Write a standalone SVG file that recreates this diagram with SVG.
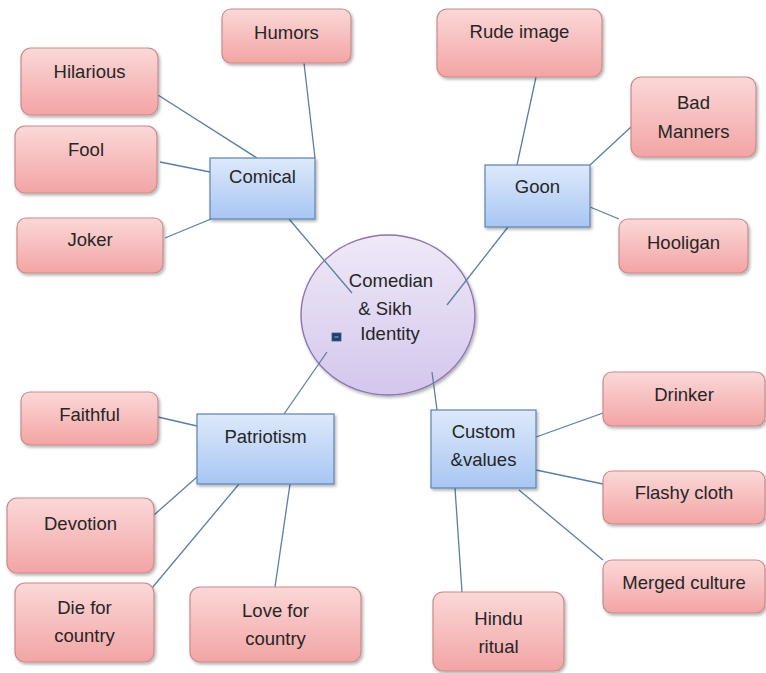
<svg xmlns="http://www.w3.org/2000/svg" width="766" height="673" viewBox="0 0 766 673">
  <defs>
    <linearGradient id="pinkFill" x1="0" y1="0" x2="0" y2="1">
      <stop offset="0" stop-color="#fbd8d8"/>
      <stop offset="1" stop-color="#f3a4a4"/>
    </linearGradient>
    <linearGradient id="blueFill" x1="0" y1="0" x2="0" y2="1">
      <stop offset="0" stop-color="#dde9fb"/>
      <stop offset="1" stop-color="#a8c6f3"/>
    </linearGradient>
    <linearGradient id="hubFill" x1="0" y1="0" x2="0" y2="1">
      <stop offset="0" stop-color="#efe9f8"/>
      <stop offset="1" stop-color="#d4c6ec"/>
    </linearGradient>
    <filter id="shadow" x="-10%" y="-10%" width="130%" height="140%">
      <feDropShadow dx="1.5" dy="2" stdDeviation="1.5" flood-color="#000" flood-opacity="0.3"/>
    </filter>
  </defs>
  <style>
    .leaf { fill: url(#pinkFill); stroke: #c98a8a; stroke-width: 1.2; filter: url(#shadow); }
    .topic { fill: url(#blueFill); stroke: #5f83b3; stroke-width: 1.2; filter: url(#shadow); }
    .hub { fill: url(#hubFill); stroke: #8c76ae; stroke-width: 1.4; filter: url(#shadow); }
    .link { stroke: #5a7ea6; stroke-width: 1.3; fill: none; }
    text { font-family: "Liberation Sans", Arial, sans-serif; font-size: 18.5px; fill: #262626; text-anchor: middle; }
  </style>
  <rect width="766" height="673" fill="#ffffff"/>

  <!-- hub -->
  <g id="hub">
    <ellipse class="hub" cx="388" cy="315" rx="87" ry="80"/>
    <text x="391" y="287">Comedian</text>
    <text x="385" y="315">&amp; Sikh</text>
    <text x="390" y="340">Identity</text>
    <rect x="332" y="333" width="9" height="8" fill="#1f3f6e" stroke="#3a5a8a" stroke-width="0.8"/>
    <line x1="334.5" y1="337" x2="338.5" y2="337" stroke="#9fb6d6" stroke-width="1"/>
  </g>

  <!-- connectors (drawn over the hub so their ends show inside it) -->
  <g id="connectors">
    <line class="link" x1="304" y1="63" x2="315" y2="158"/>
    <line class="link" x1="158" y1="95" x2="257" y2="158"/>
    <line class="link" x1="160" y1="162" x2="210" y2="172"/>
    <line class="link" x1="165" y1="238" x2="211" y2="219"/>
    <line class="link" x1="289" y1="219" x2="352" y2="293"/>
    <line class="link" x1="536" y1="77" x2="517" y2="165"/>
    <line class="link" x1="631" y1="127" x2="590" y2="165"/>
    <line class="link" x1="619" y1="219" x2="590" y2="207"/>
    <line class="link" x1="508" y1="227" x2="447" y2="305"/>
    <line class="link" x1="284" y1="414" x2="327" y2="352"/>
    <line class="link" x1="158" y1="417" x2="197" y2="426"/>
    <line class="link" x1="154" y1="515" x2="197" y2="477"/>
    <line class="link" x1="152" y1="588" x2="239" y2="484"/>
    <line class="link" x1="275" y1="587" x2="290" y2="484"/>
    <line class="link" x1="437" y1="410" x2="432" y2="372"/>
    <line class="link" x1="536" y1="437" x2="603" y2="413"/>
    <line class="link" x1="536" y1="470" x2="603" y2="484"/>
    <line class="link" x1="519" y1="490" x2="603" y2="560"/>
    <line class="link" x1="455" y1="488" x2="462" y2="592"/>
  </g>

  <!-- Comical branch -->
  <g id="comical"><rect class="topic" x="210" y="158" width="105" height="61"/><text x="262.5" y="183">Comical</text></g>
  <g id="humors"><rect class="leaf" x="222" y="9" width="129" height="54" rx="9"/><text x="286.5" y="39">Humors</text></g>
  <g id="hilarious"><rect class="leaf" x="21" y="48" width="137" height="67" rx="10"/><text x="89.5" y="78">Hilarious</text></g>
  <g id="fool"><rect class="leaf" x="15" y="126" width="142" height="67" rx="10"/><text x="86" y="156">Fool</text></g>
  <g id="joker"><rect class="leaf" x="17" y="218" width="146" height="55" rx="9"/><text x="90" y="246">Joker</text></g>

  <!-- Goon branch -->
  <g id="goon"><rect class="topic" x="485" y="165" width="105" height="62"/><text x="537.5" y="193">Goon</text></g>
  <g id="rude-image"><rect class="leaf" x="437" y="9" width="165" height="68" rx="10"/><text x="519.5" y="38">Rude image</text></g>
  <g id="bad-manners"><rect class="leaf" x="631" y="77" width="125" height="80" rx="10"/><text x="693.5" y="109">Bad</text><text x="693.5" y="138">Manners</text></g>
  <g id="hooligan"><rect class="leaf" x="619" y="219" width="129" height="54" rx="9"/><text x="683.5" y="249">Hooligan</text></g>

  <!-- Patriotism branch -->
  <g id="patriotism"><rect class="topic" x="197" y="414" width="137" height="70"/><text x="265.5" y="443">Patriotism</text></g>
  <g id="faithful"><rect class="leaf" x="21" y="392" width="137" height="53" rx="9"/><text x="89.5" y="421">Faithful</text></g>
  <g id="devotion"><rect class="leaf" x="7" y="498" width="147" height="75" rx="10"/><text x="80.5" y="530">Devotion</text></g>
  <g id="die-for-country"><rect class="leaf" x="15" y="583" width="139" height="79" rx="10"/><text x="84.5" y="614">Die for</text><text x="84.5" y="642">country</text></g>
  <g id="love-for-country"><rect class="leaf" x="190" y="587" width="171" height="75" rx="10"/><text x="275.5" y="617">Love for</text><text x="275.5" y="645">country</text></g>

  <!-- Custom & values branch -->
  <g id="custom-values"><rect class="topic" x="431" y="410" width="105" height="78"/><text x="483.5" y="438">Custom</text><text x="483.5" y="466">&amp;values</text></g>
  <g id="drinker"><rect class="leaf" x="603" y="372" width="162" height="54" rx="9"/><text x="684" y="401">Drinker</text></g>
  <g id="flashy-cloth"><rect class="leaf" x="603" y="471" width="162" height="53" rx="9"/><text x="684" y="499">Flashy cloth</text></g>
  <g id="merged-culture"><rect class="leaf" x="603" y="560" width="162" height="53" rx="9"/><text x="684" y="589">Merged culture</text></g>
  <g id="hindu-ritual"><rect class="leaf" x="433" y="592" width="131" height="79" rx="10"/><text x="498.5" y="625">Hindu</text><text x="498.5" y="653">ritual</text></g>
</svg>
